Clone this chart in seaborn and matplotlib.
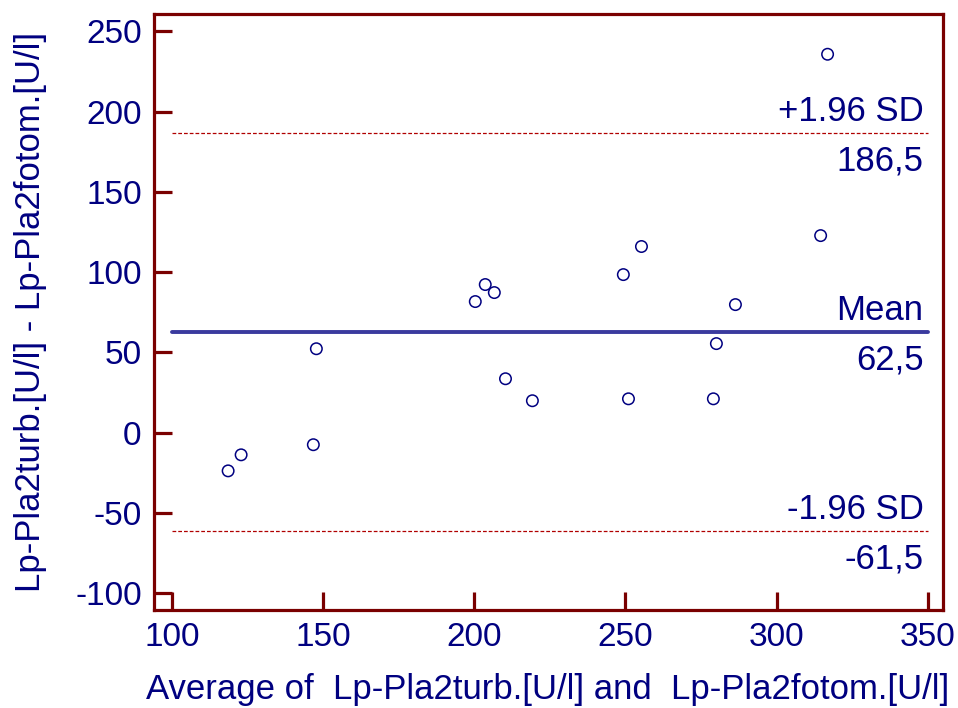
import numpy as np
import matplotlib
matplotlib.use("Agg")
import matplotlib.pyplot as plt
import pandas as pd
import seaborn as sns

# values
avg = [118.5, 122.8, 146.7, 147.7, 200.3, 203.6, 206.6, 210.3, 219.2,
       249.3, 251.0, 255.3, 279.1, 280.1, 286.4, 314.6, 316.9]
diff = [-23.9, -13.9, -7.6, 52.2, 81.6, 92.2, 87.2, 33.5, 19.8,
        98.4, 21.0, 115.9, 21.0, 55.4, 79.7, 122.7, 235.7]
mean_diff = 62.5
upper_loa = 186.5
lower_loa = -61.5
xticks = [100, 150, 200, 250, 300, 350]
yticks = [-100, -50, 0, 50, 100, 150, 200, 250]

df = pd.DataFrame({"avg": avg, "diff": diff})

sns.set_style("white")
plt.rcParams['font.family'] = ['Liberation Sans', 'DejaVu Sans']
plt.rcParams['axes.unicode_minus'] = False

navy = "#000080"
maroon = "#7a0000"

fig = plt.figure(figsize=(9.58, 7.08), dpi=100)
ax = fig.add_axes([153.5 / 958, 1 - 610 / 708, 789.2 / 958, 595.7 / 708])

sns.scatterplot(data=df, x="avg", y="diff", ax=ax, marker="o", s=68,
                facecolor="none", edgecolor=navy, linewidth=1.1, zorder=3)

ax.plot([100, 350], [mean_diff, mean_diff], color="#3a3a9e", lw=2.8, zorder=2)
for v in (upper_loa, lower_loa):
    ax.plot([100, 350], [v, v], color="#b00000", lw=0.9,
            linestyle=(0, (3, 1.6)), zorder=2)

labels = [(upper_loa, "+1.96 SD", "186,5"),
          (mean_diff, "Mean", "62,5"),
          (lower_loa, "-1.96 SD", "-61,5")]
for v, top, bottom in labels:
    ax.annotate(top, xy=(350, v), xytext=(-3, 8.5), textcoords="offset points",
                ha="right", va="baseline", fontsize=25, color=navy)
    ax.annotate(bottom, xy=(350, v), xytext=(-3, -26.5), textcoords="offset points",
                ha="right", va="baseline", fontsize=25, color=navy)

ax.set_xlim(93.8, 355)
ax.set_ylim(-110.6, 260.6)
ax.set_xticks(xticks)
ax.set_yticks(yticks)
ax.tick_params(axis="both", direction="in", length=13, width=2.3,
               color=maroon, labelcolor=navy, labelsize=24, pad=8.5,
               bottom=True, left=True, top=False, right=False)

for sp in ax.spines.values():
    sp.set_color(maroon)
    sp.set_linewidth(2.3)

ax.set_xlabel("Average of  Lp-Pla2turb.[U/l] and  Lp-Pla2fotom.[U/l]",
              fontsize=25, color=navy)
ax.set_ylabel("Lp-Pla2turb.[U/l] - Lp-Pla2fotom.[U/l]", fontsize=25, color=navy)
ax.xaxis.set_label_coords(0.5, -0.106)
ax.yaxis.set_label_coords(-0.135, 0.5)

fig.savefig("out.png", dpi=100)
